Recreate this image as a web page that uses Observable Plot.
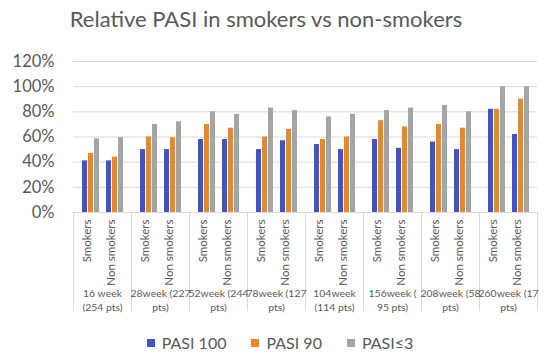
<!DOCTYPE html>
<html><head><meta charset="utf-8">
<script src="https://cdn.jsdelivr.net/npm/d3@7"></script>
<script src="https://cdn.jsdelivr.net/npm/@observablehq/plot@0.6"></script>
<style>
body{margin:0;background:#fff;font-family:Lato,sans-serif;}
#wrap{position:relative;width:550px;height:356px;overflow:hidden}
#title{position:absolute;left:0;top:6px;width:532px;text-align:center;font-size:22px;line-height:26px;color:#595959;}
#chart{position:absolute;left:0;top:40px}
#legend{position:absolute;left:0;top:333px;width:560px;display:flex;justify-content:center;gap:25px;font-size:16px;line-height:20px;color:#595959;}
.item{display:flex;align-items:center;gap:7px}
.sw{width:8px;height:8px}
</style></head>
<body>
<div id="wrap">
  <div id="title">Relative PASI in smokers vs non-smokers</div>
  <div id="chart"></div>
  <div id="legend"></div>
</div>
<script>
const weeks = ["16 week (254 pts)","28week (227 pts)","52week (244 pts)","78week (127 pts)","104week (114 pts)","156week ( 95 pts)","208week (58 pts)","260week (17 pts)"];
const weekLabels = ["16 week\n(254 pts)","28week (227\npts)","52week (244\npts)","78week (127\npts)","104week\n(114 pts)","156week (\n95 pts)","208week (58\npts)","260week (17\npts)"];
const statuses = ["Smokers","Non smokers"];
const series = ["PASI 100","PASI 90","PASI≤3"];
const colors = ["#4353c6","#e6892a","#a5a5a5"];
// values per category, order: week1 Smokers, week1 Non smokers, week2 Smokers, ...
const pasi100 = [0.41,0.41,0.50,0.50,0.58,0.58,0.50,0.57,0.54,0.50,0.58,0.51,0.56,0.50,0.82,0.62];
const pasi90  = [0.47,0.44,0.60,0.595,0.70,0.67,0.60,0.66,0.58,0.60,0.73,0.68,0.70,0.67,0.82,0.90];
const pasi3   = [0.585,0.595,0.70,0.72,0.80,0.78,0.83,0.81,0.76,0.78,0.81,0.83,0.85,0.80,1.00,1.00];
const yTicks = [0,0.2,0.4,0.6,0.8,1.0,1.2];

const valuesBySeries = [pasi100, pasi90, pasi3];
const rows = [];
weeks.forEach((w, wi) => statuses.forEach((s, si) => series.forEach((p, pi) => {
  rows.push({week: w, status: s, series: p, slot: s + "|" + p, value: valuesBySeries[pi][wi * 2 + si]});
})));
const slots = [...series.map(p => "Smokers|" + p), "gap", ...series.map(p => "Non smokers|" + p)];
const statusRows = weeks.flatMap(w => statuses.map(s => ({week: w, status: s, slot: s + "|" + series[1]})));
const weekRows = weeks.map((w, i) => ({week: w, label: weekLabels[i]}));

const H = 282, mT = 21, mB = 110;
const plotH = H - mT - mB;

const chart = Plot.plot({
  width: 550, height: H,
  marginTop: mT, marginBottom: mB, marginLeft: 72, marginRight: 12,
  style: {fontFamily: "Lato, sans-serif", color: "#595959", background: "#fff"},
  fx: {domain: weeks, padding: 0, axis: null},
  x: {domain: slots, paddingInner: 0.23, paddingOuter: 0.835, axis: null},
  y: {domain: [0, 1.2], label: null},
  color: {domain: series, range: colors},
  marks: [
    Plot.gridY(yTicks, {stroke: "#d9d9d9", strokeOpacity: 1}),
    Plot.axisY(yTicks, {tickSize: 0, tickPadding: 19, fontSize: 16.5, fill: "#595959", label: null,
      tickFormat: d => Math.round(d * 100) + "%"}),
    Plot.frame({anchor: "left", stroke: "#d9d9d9", strokeOpacity: 1, insetTop: plotH, insetBottom: -98}),
    Plot.frame({anchor: "right", stroke: "#d9d9d9", strokeOpacity: 1, insetTop: plotH, insetBottom: -98}),
    Plot.barY(rows, {fx: "week", x: "slot", y: "value", fill: "series"}),
    Plot.text(statusRows, {fx: "week", x: "slot", text: "status", rotate: -90, textAnchor: "end",
      frameAnchor: "bottom", dy: 7, fontSize: 11.5, fill: "#595959"}),
    Plot.text(weekRows, {fx: "week", text: "label", frameAnchor: "bottom", lineAnchor: "top",
      dy: 74, fontSize: 10.4, lineHeight: 1.4, fill: "#595959"})
  ]
});
document.getElementById("chart").appendChild(chart);

const legend = document.getElementById("legend");
series.forEach((s, i) => {
  const it = document.createElement("div");
  it.className = "item";
  const sw = document.createElement("span");
  sw.className = "sw"; sw.style.background = colors[i];
  const t = document.createElement("span");
  t.textContent = s;
  it.appendChild(sw); it.appendChild(t);
  legend.appendChild(it);
});
</script>
</body></html>
